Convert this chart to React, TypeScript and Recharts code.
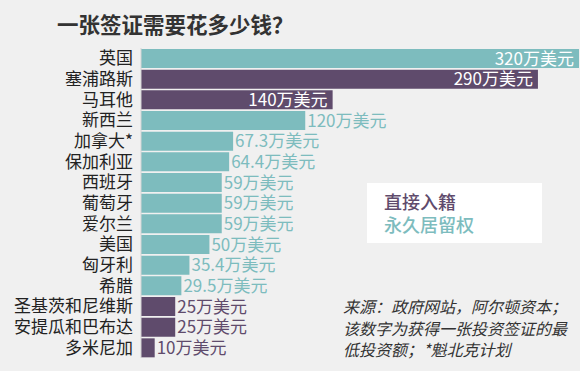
import React from 'react';
import { BarChart, Bar, XAxis, YAxis, Cell, LabelList } from 'recharts';

const categories = ['英国', '塞浦路斯', '马耳他', '新西兰', '加拿大*', '保加利亚', '西班牙', '葡萄牙', '爱尔兰', '美国', '匈牙利', '希腊', '圣基茨和尼维斯', '安提瓜和巴布达', '多米尼加'];
const values = [320, 290, 140, 120, 67.3, 64.4, 59, 59, 59, 50, 35.4, 29.5, 25, 25, 10];
const valueLabels = ['320万美元', '290万美元', '140万美元', '120万美元', '67.3万美元', '64.4万美元', '59万美元', '59万美元', '59万美元', '50万美元', '35.4万美元', '29.5万美元', '25万美元', '25万美元', '10万美元'];
const kinds = ['永久居留权', '直接入籍', '直接入籍', '永久居留权', '永久居留权', '永久居留权', '永久居留权', '永久居留权', '永久居留权', '永久居留权', '永久居留权', '永久居留权', '直接入籍', '直接入籍', '直接入籍'];
const legendLabels = ['直接入籍', '永久居留权'];
const title = '一张签证需要花多少钱？';
const sourceLines = ['来源：政府网站，阿尔顿资本；', '该数字为获得一张投资签证的最', '低投资额；*魁北克计划'];

const TEAL = '#7dbcbe';
const PURPLE = '#5f4b6c';
const colorOf = (k: string) => (k === '直接入籍' ? PURPLE : TEAL);
const FONT = '"Noto Sans CJK SC", "Noto Sans", sans-serif';

const data = categories.map((c, i) => ({ name: c, value: values[i], label: valueLabels[i], kind: kinds[i] }));

const renderLabel = (props: any) => {
  const { x, y, width, height, index } = props;
  const d = data[index];
  const inside = d.value >= 140;
  const cy = y + height / 2;
  if (inside) {
    return (
      <text x={x + width - 5} y={cy} dy="0.36em" textAnchor="end" fill="#ffffff" fontSize={17} fontFamily={FONT}>
        {d.label}
      </text>
    );
  }
  return (
    <text x={x + width + 2} y={cy} dy="0.36em" textAnchor="start" fill={colorOf(d.kind)} fontSize={17} fontFamily={FONT}>
      {d.label}
    </text>
  );
};

export default function App() {
  return (
    <div style={{ position: 'absolute', left: 0, top: 0, width: 580, height: 371, background: '#f0f0f0', fontFamily: FONT, overflow: 'hidden' }}>
      <div style={{ position: 'absolute', left: 57, top: 12, fontSize: 21.5, fontWeight: 700, color: '#333', lineHeight: '24px', whiteSpace: 'nowrap' }}>{title}</div>
      <div style={{ position: 'absolute', left: 0, top: 0 }}>
        <BarChart width={580} height={371} data={data} layout="vertical" margin={{ top: 48, right: 1, bottom: 13, left: 0 }}>
          <XAxis type="number" domain={[0, 320]} hide />
          <YAxis
            type="category"
            dataKey="name"
            width={141}
            tickLine={false}
            axisLine={{ stroke: '#d4d4d4' }}
            tick={{ fontSize: 17, fill: '#222', fontFamily: FONT }}
            interval={0}
          />
          <Bar dataKey="value" barSize={19} isAnimationActive={false}>
            {data.map((d, i) => (
              <Cell key={i} fill={colorOf(d.kind)} />
            ))}
            <LabelList dataKey="value" content={renderLabel} />
          </Bar>
        </BarChart>
      </div>
      <div style={{ position: 'absolute', left: 367, top: 183, width: 175, height: 60, background: '#ffffff', boxSizing: 'border-box', paddingLeft: 17, paddingTop: 7 }}>
        <div style={{ fontSize: 18, lineHeight: '23px', color: PURPLE, fontWeight: 500 }}>{legendLabels[0]}</div>
        <div style={{ fontSize: 18, lineHeight: '23px', color: TEAL, fontWeight: 500 }}>{legendLabels[1]}</div>
      </div>
      <div style={{ position: 'absolute', left: 343, top: 296, fontSize: 16, lineHeight: '21.5px', color: '#333', fontStyle: 'italic', whiteSpace: 'nowrap' }}>
        {sourceLines.map((l, i) => (
          <div key={i}>{l}</div>
        ))}
      </div>
    </div>
  );
}
